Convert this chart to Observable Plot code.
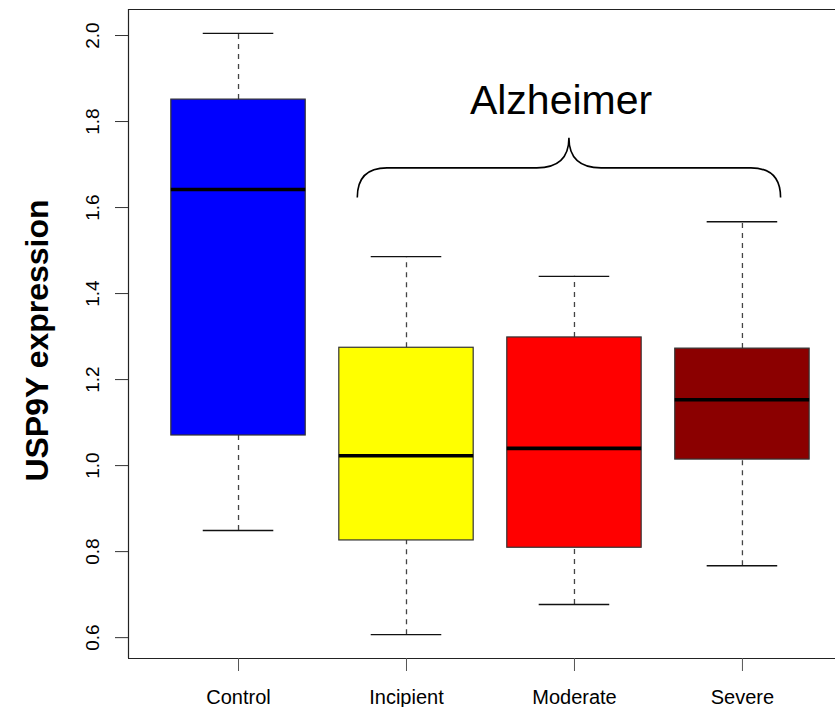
<!DOCTYPE html>
<html><head><meta charset="utf-8">
<script src="https://cdn.jsdelivr.net/npm/d3@7"></script>
<script src="https://cdn.jsdelivr.net/npm/@observablehq/plot@0.6"></script>
<style>html,body{margin:0;padding:0;background:#fff;overflow:hidden} svg{display:block}</style>
</head><body><div id="chart"></div>
<script>
// ---- data ----
const groups = ["Control", "Incipient", "Moderate", "Severe"];
const whiskerLow  = [0.849, 0.607, 0.677, 0.767];
const q1          = [1.070, 0.826, 0.809, 1.014];
const median      = [1.642, 1.023, 1.040, 1.153];
const q3          = [1.851, 1.274, 1.298, 1.272];
const whiskerHigh = [2.005, 1.486, 1.440, 1.567];
const boxColors   = ["#0000FF", "#FFFF00", "#FF0000", "#8B0000"];
const yTicks = [0.6, 0.8, 1.0, 1.2, 1.4, 1.6, 1.8, 2.0];
const yTitle = "USP9Y expression";
const groupLabel = "Alzheimer";
// brace annotation (data units): spans Incipient..Severe
const braceX = [1.71, 4.23];
const braceY = {ends: 1.622, arm: 1.691, tip: 1.761};
const groupLabelPos = {x: 2.92, y: 1.817};

const rows = groups.map((g, i) => ({
  g, pos: i + 1, lo: whiskerLow[i], q1: q1[i], med: median[i],
  q3: q3[i], hi: whiskerHigh[i], color: boxColors[i]
}));

const font = "'Liberation Sans', Arial, Helvetica, sans-serif";
const yDomain = [0.5515, 2.0605];
const xDomain = [0.345, 4.554];

function brace(index, scales) {
  const sx = scales.x, sy = scales.y;
  const x0 = sx(braceX[0]), x1 = sx(braceX[1]), xm = (x0 + x1) / 2;
  const yb = sy(braceY.ends), yh = sy(braceY.arm), yt = sy(braceY.tip);
  const re = yb - yh, rt = (yh - yt) * 1.07;
  const p = d3.path();
  p.moveTo(x0, yb);
  p.quadraticCurveTo(x0, yh, x0 + re, yh);
  p.lineTo(xm - rt, yh);
  p.quadraticCurveTo(xm, yh, xm, yt);
  p.quadraticCurveTo(xm, yh, xm + rt, yh);
  p.lineTo(x1 - re, yh);
  p.quadraticCurveTo(x1, yh, x1, yb);
  const el = document.createElementNS("http://www.w3.org/2000/svg", "path");
  el.setAttribute("d", p.toString());
  el.setAttribute("fill", "none");
  el.setAttribute("stroke", "#000");
  el.setAttribute("stroke-width", "1.6");
  return el;
}

const chart = Plot.plot({
  width: 835,
  height: 707,
  marginLeft: 128,
  marginRight: 0,
  marginTop: 9,
  marginBottom: 49,
  style: {fontFamily: font, background: "#fff", color: "#000", overflow: "visible"},
  x: {type: "linear", domain: xDomain},
  y: {domain: yDomain},
  color: {type: "identity"},
  marks: [
    // frame (left, top, bottom)
    Plot.ruleX([xDomain[0]], {stroke: "#222", strokeWidth: 1.2}),
    Plot.ruleY([yDomain[1], yDomain[0]], {stroke: "#222", strokeWidth: 1.2}),
    // whiskers
    Plot.ruleX(rows, {x: "pos", y1: "q3", y2: "hi", stroke: "#444", strokeWidth: 1.3, strokeDasharray: "5,5"}),
    Plot.ruleX(rows, {x: "pos", y1: "lo", y2: "q1", stroke: "#444", strokeWidth: 1.3, strokeDasharray: "5,5"}),
    Plot.ruleY(rows, {y: "hi", x1: d => d.pos - 0.21, x2: d => d.pos + 0.21, stroke: "#111", strokeWidth: 1.4}),
    Plot.ruleY(rows, {y: "lo", x1: d => d.pos - 0.21, x2: d => d.pos + 0.21, stroke: "#111", strokeWidth: 1.4}),
    // boxes
    Plot.rect(rows, {x1: d => d.pos - 0.4, x2: d => d.pos + 0.4, y1: "q1", y2: "q3", fill: "color", stroke: "#333", strokeWidth: 1.2}),
    // medians
    Plot.ruleY(rows, {y: "med", x1: d => d.pos - 0.4, x2: d => d.pos + 0.4, stroke: "#000", strokeWidth: 3.6}),
    // axes
    Plot.axisY(yTicks, {anchor: "left", tickSize: 13, tickPadding: 17, tickRotate: -90, fontSize: 19,
      tickFormat: d3.format(".1f"), label: null, stroke: "#333", fill: "#000"}),
    Plot.axisX([1, 2, 3, 4], {anchor: "bottom", tickSize: 13, tickPadding: 18, fontSize: 20,
      tickFormat: d => groups[d - 1], label: null, stroke: "#555", fill: "#000"}),
    // y title
    Plot.text([yTitle], {frameAnchor: "left", dx: -81, dy: 6.5, rotate: -90, lineAnchor: "bottom",
      textAnchor: "middle", fontSize: 32, fontWeight: "bold", fill: "#000"}),
    // annotation
    brace,
    Plot.text([groupLabel], {x: () => groupLabelPos.x, y: () => groupLabelPos.y, lineAnchor: "bottom",
      fontSize: 41, fill: "#000"})
  ]
});
document.getElementById("chart").appendChild(chart);
</script>
</body></html>
